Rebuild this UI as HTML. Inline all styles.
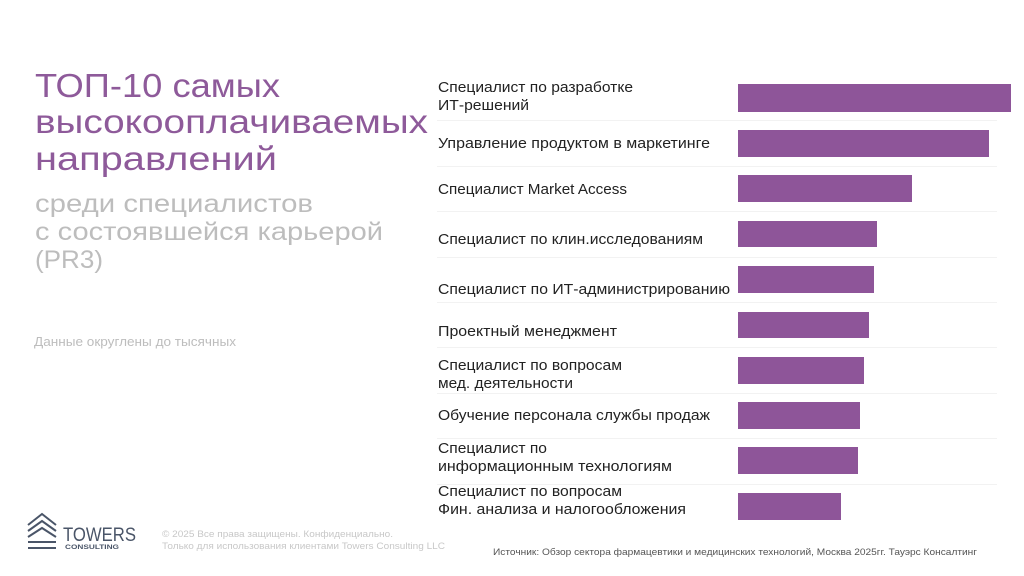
<!DOCTYPE html>
<html><head><meta charset="utf-8"><style>
html,body{margin:0;padding:0;background:#fff;}
svg{display:block;font-family:"Liberation Sans","DejaVu Sans",sans-serif;}
</style></head><body>
<svg width="1024" height="576" viewBox="0 0 1024 576" xmlns="http://www.w3.org/2000/svg">
<rect width="1024" height="576" fill="#fff"/>
<g fill="#8e5a9a" font-size="33">
<text x="35" y="97" textLength="245" lengthAdjust="spacingAndGlyphs">ТОП-10 самых</text>
<text x="35" y="133" textLength="393" lengthAdjust="spacingAndGlyphs">высокооплачиваемых</text>
<text x="35" y="170" textLength="242" lengthAdjust="spacingAndGlyphs">направлений</text>
</g>
<g fill="#bdbdbd" font-size="25">
<text x="35" y="212" textLength="278" lengthAdjust="spacingAndGlyphs">среди специалистов</text>
<text x="35" y="240" textLength="348" lengthAdjust="spacingAndGlyphs">с состоявшейся карьерой</text>
<text x="35" y="268" textLength="68" lengthAdjust="spacingAndGlyphs">(PR3)</text>
</g>
<text x="34" y="346" font-size="12.5" fill="#bdbdbd" textLength="202" lengthAdjust="spacingAndGlyphs">Данные округлены до тысячных</text>
<g stroke="#f2f2f2" stroke-width="1">
<line x1="437" y1="120.5" x2="997" y2="120.5"/>
<line x1="437" y1="166.5" x2="997" y2="166.5"/>
<line x1="437" y1="211.5" x2="997" y2="211.5"/>
<line x1="437" y1="257.5" x2="997" y2="257.5"/>
<line x1="437" y1="302.5" x2="997" y2="302.5"/>
<line x1="437" y1="347.5" x2="997" y2="347.5"/>
<line x1="437" y1="393.5" x2="997" y2="393.5"/>
<line x1="437" y1="438.5" x2="997" y2="438.5"/>
<line x1="437" y1="484.5" x2="997" y2="484.5"/>
</g>
<g fill="#8e5599">
<rect x="738" y="84" width="273" height="28"/>
<rect x="738" y="130" width="251" height="27"/>
<rect x="738" y="175" width="174" height="27"/>
<rect x="738" y="221" width="139" height="26"/>
<rect x="738" y="266" width="136" height="27"/>
<rect x="738" y="312" width="131" height="26"/>
<rect x="738" y="357" width="126" height="27"/>
<rect x="738" y="402" width="122" height="27"/>
<rect x="738" y="447" width="120" height="27"/>
<rect x="738" y="493" width="103" height="27"/>
</g>
<g fill="#222" font-size="14.5">
<text x="438" y="92" textLength="195" lengthAdjust="spacingAndGlyphs">Специалист по разработке</text>
<text x="438" y="110" textLength="91" lengthAdjust="spacingAndGlyphs">ИТ-решений</text>
<text x="438" y="148" textLength="272" lengthAdjust="spacingAndGlyphs">Управление продуктом в маркетинге</text>
<text x="438" y="194" textLength="189" lengthAdjust="spacingAndGlyphs">Специалист Market Access</text>
<text x="438" y="244" textLength="265" lengthAdjust="spacingAndGlyphs">Специалист по клин.исследованиям</text>
<text x="438" y="294" textLength="292" lengthAdjust="spacingAndGlyphs">Специалист по ИТ-администрированию</text>
<text x="438" y="336" textLength="179" lengthAdjust="spacingAndGlyphs">Проектный менеджмент</text>
<text x="438" y="370" textLength="184" lengthAdjust="spacingAndGlyphs">Специалист по вопросам</text>
<text x="438" y="388" textLength="135" lengthAdjust="spacingAndGlyphs">мед. деятельности</text>
<text x="438" y="420" textLength="272" lengthAdjust="spacingAndGlyphs">Обучение персонала службы продаж</text>
<text x="438" y="453" textLength="109" lengthAdjust="spacingAndGlyphs">Специалист по</text>
<text x="438" y="471" textLength="234" lengthAdjust="spacingAndGlyphs">информационным технологиям</text>
<text x="438" y="496" textLength="184" lengthAdjust="spacingAndGlyphs">Специалист по вопросам</text>
<text x="438" y="514" textLength="248" lengthAdjust="spacingAndGlyphs">Фин. анализа и налогообложения</text>
</g>
<g stroke="#4a5568" stroke-width="2" fill="none">
<polyline points="28,525 42,514 56,525"/>
<polyline points="28,531 42,521 56,531"/>
<polyline points="28,537 42,528 56,537"/>
<line x1="28" y1="542" x2="56" y2="542"/>
<line x1="28" y1="548" x2="56" y2="548"/>
</g>
<text x="63" y="541" font-size="19" fill="#4a5568" textLength="73" lengthAdjust="spacingAndGlyphs">TOWERS</text>
<text x="65" y="549" font-size="6" font-weight="bold" fill="#4a5568" textLength="54" lengthAdjust="spacingAndGlyphs">CONSULTING</text>
<text x="162" y="537" font-size="9.5" fill="#c8c8c8" textLength="231" lengthAdjust="spacingAndGlyphs">© 2025 Все права защищены. Конфиденциально.</text>
<text x="162" y="549" font-size="9.5" fill="#c8c8c8" textLength="283" lengthAdjust="spacingAndGlyphs">Только для использования клиентами Towers Consulting LLC</text>
<text x="493" y="555" font-size="9.5" fill="#555" textLength="484" lengthAdjust="spacingAndGlyphs">Источник: Обзор сектора фармацевтики и медицинских технологий, Москва 2025гг. Тауэрс Консалтинг</text>
</svg>
</body></html>
